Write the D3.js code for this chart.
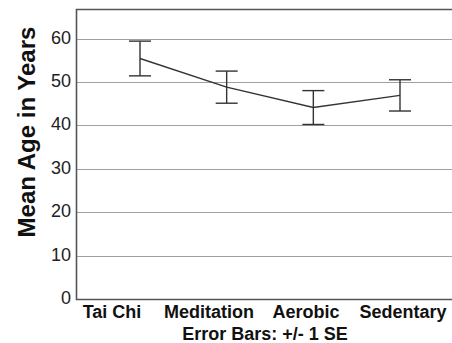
<!DOCTYPE html>
<html>
<head>
<meta charset="utf-8">
<script src="https://cdn.jsdelivr.net/npm/d3@7"></script>
<style>
  body { margin: 0; background: #fff; }
  svg { display: block; font-family: "Liberation Sans", Arial, sans-serif; }
</style>
</head>
<body>
<div id="chart"></div>
<script>
// groups and their mean age, with +/- 1 SE
var groups = ["Tai Chi", "Meditation", "Aerobic", "Sedentary"];
var meanAge = [55.4, 48.8, 44.1, 46.9];
var stdErr = [4.0, 3.7, 3.9, 3.6];
var yTicks = [0, 10, 20, 30, 40, 50, 60];

var width = 452, height = 343;
// (can't use "top" as a global name, window.top is read only)
var plotLeft = 76, plotTop = 9, plotBottom = 299, plotRight = 470;

var svg = d3.select("#chart").append("svg")
    .attr("width", width)
    .attr("height", height);

var y = d3.scaleLinear()
    .domain([0, 66.8])
    .range([plotBottom, plotTop]);

// points sit further right than their labels in the original figure
var x = d3.scalePoint()
    .domain(groups)
    .range([140, 400]);

var xLabel = d3.scalePoint()
    .domain(groups)
    .range([112, 403]);

// grid lines
svg.append("g")
  .selectAll("line")
  .data(yTicks.filter(function(d) { return d > 0; }))
  .enter().append("line")
    .attr("x1", plotLeft).attr("x2", plotRight)
    .attr("y1", function(d) { return Math.round(y(d)) + 0.5; })
    .attr("y2", function(d) { return Math.round(y(d)) + 0.5; })
    .attr("stroke", "#a0a0a0")
    .attr("stroke-width", 1.2);

// frame
svg.append("path")
    .attr("d", "M" + plotRight + "," + (plotTop + 0.5) + "H" + (plotLeft + 0.5) + "V" + (plotBottom + 0.5) + "H" + plotRight)
    .attr("fill", "none")
    .attr("stroke", "#555")
    .attr("stroke-width", 1.6);

// y tick labels
svg.append("g")
  .selectAll("text")
  .data(yTicks)
  .enter().append("text")
    .attr("x", 71)
    .attr("y", function(d) { return y(d); })
    .attr("dy", "0.28em")
    .attr("text-anchor", "end")
    .attr("font-size", 18)
    .attr("fill", "#222")
    .text(function(d) { return d; });

// y title
svg.append("text")
    .attr("transform", "translate(35," + 132 + ") rotate(-90)")
    .attr("text-anchor", "middle")
    .attr("font-size", 24)
    .attr("font-weight", "bold")
    .attr("fill", "#111")
    .text("Mean Age in Years");

// x labels
svg.append("g")
  .selectAll("text")
  .data(groups)
  .enter().append("text")
    .attr("x", function(d) { return xLabel(d); })
    .attr("y", 318)
    .attr("text-anchor", "middle")
    .attr("font-size", 18)
    .attr("font-weight", "bold")
    .attr("fill", "#111")
    .text(function(d) { return d; });

svg.append("text")
    .attr("x", 265)
    .attr("y", 340)
    .attr("text-anchor", "middle")
    .attr("font-size", 18)
    .attr("font-weight", "bold")
    .attr("fill", "#111")
    .text("Error Bars: +/- 1 SE");

// mean line
var line = d3.line()
    .x(function(d, i) { return x(groups[i]); })
    .y(function(d) { return y(d); });

svg.append("path")
    .datum(meanAge)
    .attr("d", line)
    .attr("fill", "none")
    .attr("stroke", "#333")
    .attr("stroke-width", 1.4);

// error bars
var bars = svg.append("g")
    .attr("stroke", "#333")
    .attr("stroke-width", 1.4)
  .selectAll("g")
  .data(groups)
  .enter().append("g");

bars.append("line")
    .attr("x1", function(d) { return x(d); })
    .attr("x2", function(d) { return x(d); })
    .attr("y1", function(d, i) { return y(meanAge[i] + stdErr[i]); })
    .attr("y2", function(d, i) { return y(meanAge[i] - stdErr[i]); });

bars.append("line")
    .attr("x1", function(d) { return x(d) - 11; })
    .attr("x2", function(d) { return x(d) + 11; })
    .attr("y1", function(d, i) { return y(meanAge[i] + stdErr[i]); })
    .attr("y2", function(d, i) { return y(meanAge[i] + stdErr[i]); });

bars.append("line")
    .attr("x1", function(d) { return x(d) - 11; })
    .attr("x2", function(d) { return x(d) + 11; })
    .attr("y1", function(d, i) { return y(meanAge[i] - stdErr[i]); })
    .attr("y2", function(d, i) { return y(meanAge[i] - stdErr[i]); });
</script>
</body>
</html>
